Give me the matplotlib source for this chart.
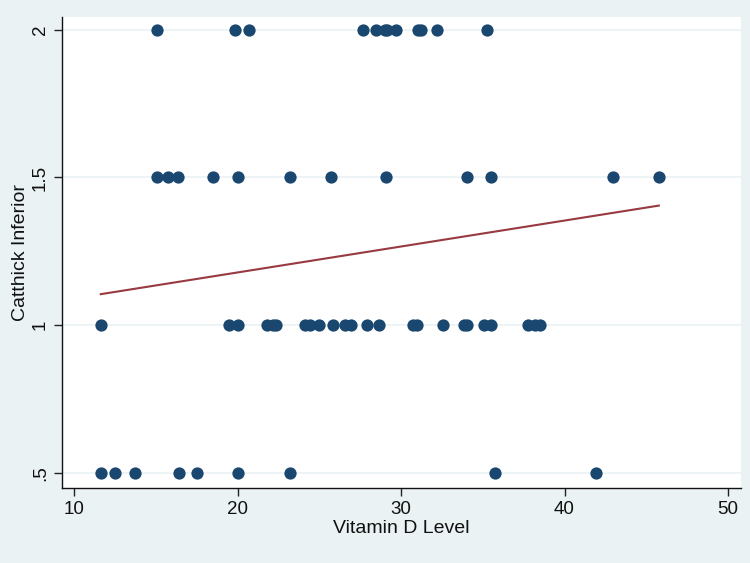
import matplotlib
matplotlib.use("Agg")
import matplotlib.pyplot as plt
import numpy as np

plt.rcParams['font.family'] = ['Liberation Sans', 'DejaVu Sans']

# Vitamin D values at each Catthick Inferior level
x_2 = [15.03, 19.80, 20.69, 27.68, 28.44, 29.03, 29.15, 29.70, 31.05, 31.24, 32.18, 35.27]
x_15 = [15.03, 15.71, 16.32, 18.48, 20.01, 23.19, 25.72, 29.08, 34.01, 35.49, 42.97, 45.77]
x_1 = [11.61, 19.47, 20.01, 21.76, 22.17, 22.35, 24.13, 24.40, 24.99, 25.80, 26.56,
       26.93, 27.90, 28.62, 30.73, 30.97, 32.58, 33.82, 34.00, 35.09, 35.49, 37.77,
       38.18, 38.50]
x_05 = [11.61, 12.48, 13.69, 16.38, 17.51, 19.99, 23.19, 35.76, 41.95]

xs = np.array(x_2 + x_15 + x_1 + x_05)
ys = np.array([2.0] * len(x_2) + [1.5] * len(x_15) + [1.0] * len(x_1) + [0.5] * len(x_05))

xticks = [10, 20, 30, 40, 50]
yticks = [0.5, 1.0, 1.5, 2.0]
ytick_labels = [".5", "1", "1.5", "2"]

bg = "#eaf2f3"
fig = plt.figure(figsize=(7.5, 5.63), dpi=100, facecolor=bg)
ax = fig.add_axes([0.0827, 0.1332, 0.9053, 0.837])
ax.set_facecolor("white")

for yv in yticks:
    ax.axhline(yv, color=bg, lw=1.2, zorder=0)

ax.scatter(xs, ys, s=78, color="#1a476f", zorder=3, linewidths=0)

slope, intercept = np.polyfit(xs, ys, 1)
xl = np.array([xs.min(), xs.max()])
ax.plot(xl, intercept + slope * xl, color="#983a40", lw=1.5, zorder=2)

ax.set_xlim(9.24, 50.8)
ax.set_ylim(0.449, 2.044)
ax.set_xticks(xticks)
ax.set_yticks(yticks)
ax.set_yticklabels(ytick_labels, rotation=90, va="center")
ax.tick_params(axis="both", labelsize=13.5, color="#222222", length=6, width=1, labelcolor="#111111")

for s in ["top", "right"]:
    ax.spines[s].set_visible(False)
for s in ["left", "bottom"]:
    ax.spines[s].set_color("#111111")
    ax.spines[s].set_linewidth(1)

ax.set_xlabel("Vitamin D Level", fontsize=14, labelpad=1, color="#111111")
ax.set_ylabel("Catthick Inferior", fontsize=14, labelpad=2, color="#111111")

fig.savefig("out.png", dpi=100, facecolor=bg)
